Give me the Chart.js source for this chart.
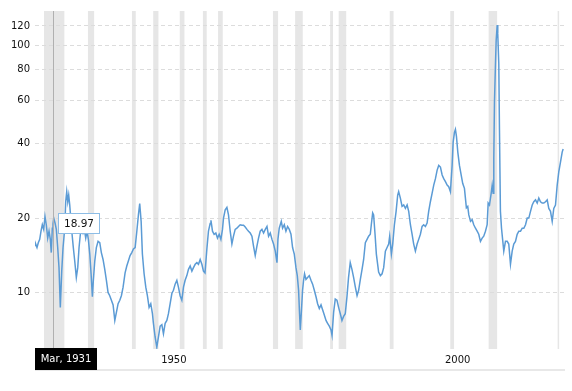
<!DOCTYPE html>
<html><head><meta charset="utf-8">
<script src="https://cdn.jsdelivr.net/npm/chart.js@4"></script>
<style>html,body{margin:0;padding:0;background:#fff}canvas{display:block}</style>
</head><body>
<canvas id="c" width="572" height="391"></canvas>
<script>
// Decimal years of each reading
const years = [
1928.0,1928.12,1928.35,1928.58,1928.83,1929.06,1929.29,1929.53,1929.76,1929.99,
1930.24,1930.47,1930.70,1930.87,1931.05,1931.17,1931.3,1931.53,1931.76,1932.0,
1932.23,1932.46,1932.71,1932.94,1933.24,1933.41,1933.59,1933.77,1933.94,1934.12,
1934.30,1934.53,1934.75,1935.0,1935.28,1935.53,1935.76,1935.99,1936.24,1936.47,
1936.69,1936.94,1937.17,1937.40,1937.65,1937.88,1938.11,1938.28,1938.53,1938.81,
1939.11,1939.41,1939.69,1939.99,1940.29,1940.58,1940.87,1941.17,1941.46,1941.76,
1942.06,1942.34,1942.64,1942.94,1943.22,1943.52,1943.87,1944.17,1944.45,1944.75,
1945.05,1945.34,1945.64,1945.94,1946.22,1946.45,1946.7,1946.92,1947.22,1947.52,
1947.80,1948.10,1948.40,1948.69,1948.86,1949.16,1949.46,1949.75,1950.05,1950.35,
1950.63,1950.93,1951.23,1951.51,1951.81,1952.11,1952.39,1952.69,1952.99,1953.27,
1953.57,1953.87,1954.16,1954.45,1954.75,1955.04,1955.34,1955.64,1955.92,1956.22,
1956.52,1956.80,1957.10,1957.40,1957.68,1957.95,1958.28,1958.56,1958.86,1959.0,
1959.27,1959.56,1959.86,1960.15,1960.45,1960.75,1961.03,1961.21,1961.51,1961.81,
1962.09,1962.39,1962.69,1962.97,1963.27,1963.57,1963.85,1964.15,1964.45,1964.74,
1965.04,1965.34,1965.62,1965.92,1966.22,1966.50,1966.80,1967.10,1967.38,1967.68,
1967.98,1968.27,1968.57,1968.87,1969.15,1969.45,1969.75,1970.03,1970.33,1970.63,
1970.80,1971.03,1971.39,1971.62,1971.92,1972.21,1972.50,1972.80,1973.10,1973.38,
1973.68,1973.98,1974.21,1974.44,1974.61,1974.74,1974.91,1975.14,1975.32,1975.49,
1975.74,1976.03,1976.32,1976.62,1976.91,1977.21,1977.51,1977.79,1978.09,1978.39,
1978.67,1978.97,1979.27,1979.55,1979.85,1980.15,1980.33,1980.61,1980.90,1981.20,
1981.49,1981.79,1982.08,1982.37,1982.66,1982.96,1983.24,1983.54,1983.84,1984.13,
1984.44,1984.74,1985.02,1985.32,1985.62,1985.90,1986.20,1986.50,1986.78,1987.07,
1987.25,1987.49,1987.66,1987.91,1988.14,1988.37,1988.54,1988.85,1989.15,1989.43,
1989.73,1990.03,1990.31,1990.49,1990.79,1991.02,1991.32,1991.62,1991.90,1992.07,
1992.37,1992.67,1992.96,1993.26,1993.56,1993.84,1994.14,1994.44,1994.72,1995.02,
1995.32,1995.60,1995.90,1996.20,1996.48,1996.78,1997.08,1997.36,1997.66,1997.96,
1998.25,1998.55,1998.85,1999.13,1999.43,1999.73,2000.01,2000.31,2000.61,2000.89,
2001.19,2001.49,2001.67,2001.90,2002.07,2002.25,2002.49,2002.78,2003.08,2003.36,
2003.66,2003.84,2004.0,2004.24,2004.43,2004.73,2005.02,2005.30,2005.60,2005.90,
2006.18,2006.48,2006.78,2007.06,2007.36,2007.66,2007.84,2008.07,2008.37,2008.55,
2008.72,2008.83,2008.95,2009.13,2009.25,2009.43,2009.53,2009.71,2009.83,2010.0,
2010.19,2010.42,2010.59,2010.89,2011.19,2011.47,2011.77,2012.07,2012.35,2012.65,
2012.95,2013.24,2013.54,2013.84,2014.12,2014.42,2014.72,2015.0,2015.30,2015.60,
2015.88,2016.18,2016.48,2016.76,2017.06,2017.36,2017.64,2017.94,2018.24,2018.52,
2018.82,2019.12,2019.40,2019.70,2020.0,2020.28,2020.58,2020.88,2021.05
];
// PE ratio readings
const peRatio = [
15.5,15.7,15.2,15.9,16.4,17.7,18.8,18.0,20.3,18.8,
16.6,17.7,16.4,14.5,18.2,18.97,20.0,19.1,18.0,15.2,
12.6,8.7,12.2,15.2,18.2,23.3,25.6,23.3,24.8,22.6,
20.0,17.2,15.2,13.4,11.5,12.6,15.2,17.2,18.2,17.4,
18.0,16.6,17.7,16.4,14.3,11.9,9.6,11.2,13.4,15.2,
16.1,15.9,14.5,13.6,12.4,11.2,10.0,9.7,9.3,8.9,
7.7,8.3,9.0,9.3,9.7,10.5,12.0,12.8,13.4,14.1,
14.5,15.0,15.2,17.7,20.6,22.9,19.4,14.3,11.9,10.5,
9.7,8.7,9.0,8.2,7.5,6.6,6.0,6.6,7.3,7.4,
6.8,7.5,7.7,8.2,9.0,9.9,10.2,10.8,11.2,10.5,
9.7,9.3,10.5,11.2,11.7,12.4,12.8,12.2,12.6,13.0,
13.2,13.0,13.6,13.0,12.2,12.0,15.0,17.7,19.0,19.6,
17.7,17.2,17.4,16.6,17.2,16.4,18.0,20.0,21.6,22.1,
20.6,17.7,15.7,16.9,18.0,18.2,18.5,18.8,18.7,18.7,
18.4,18.0,17.7,17.4,16.9,15.4,14.1,15.4,16.6,17.7,
18.0,17.4,18.0,18.5,16.9,17.4,16.4,15.7,14.7,13.2,
16.4,18.2,19.4,18.2,18.8,17.7,18.5,18.0,17.2,15.2,
14.3,12.6,11.7,10.2,8.2,7.05,8.2,10.2,11.2,11.9,
11.3,11.5,11.7,11.2,10.8,10.2,9.6,9.0,8.6,8.9,
8.5,8.1,7.7,7.5,7.3,7.05,6.7,8.3,9.4,9.3,
8.7,8.2,7.7,8.0,8.2,9.6,11.5,13.2,12.4,11.5,
10.5,9.7,10.2,11.3,12.4,13.6,15.9,16.4,16.9,17.2,
18.8,21.0,20.6,17.2,14.3,13.0,12.1,11.7,11.9,12.6,
14.7,15.2,15.7,16.9,14.3,15.7,18.8,21.3,24.8,25.6,
24.1,22.3,22.6,21.9,22.6,21.3,18.8,17.2,15.7,14.7,
15.7,16.4,17.2,18.5,18.8,18.5,19.1,21.3,23.3,25.2,
27.2,28.9,31.3,32.7,32.2,29.9,28.9,28.1,27.2,26.8,
25.6,32.7,40.6,44.5,45.8,42.9,37.0,32.7,29.9,27.6,
26.4,24.0,22.0,22.3,20.6,19.4,19.7,18.8,18.2,17.7,
17.2,16.1,16.6,16.9,17.7,18.8,23.0,22.6,25.2,27.2,
25.2,34.8,58.6,84.7,105,121,111.7,84.7,45.8,21.3,
18.2,16.1,14.7,16.1,16.1,15.7,13.0,14.7,15.7,16.1,
17.2,17.7,17.7,18.2,18.2,18.8,20.0,20.0,21.3,22.6,
23.3,23.7,23.0,24.1,23.3,23.0,23.0,23.3,23.7,21.9,
21.3,19.4,21.9,22.6,27.2,30.8,33.7,37.0,38.1
];
// US recessions (decimal years)
const recessionStart = [1929.58,1937.33,1945.08,1948.83,1953.5,1957.58,1960.25,1969.92,1973.83,1980.0,1981.5,1990.5,2001.17,2007.92,2020.08];
const recessionEnd   = [1933.17,1938.42,1945.75,1949.75,1954.33,1958.25,1961.08,1970.83,1975.17,1980.5,1982.83,1991.17,2001.83,2009.42,2020.25];
const yTickValues = [10,20,40,60,80,100,120];
const xTickValues = [1950,2000];
const tooltipYear = 1931.17;
const tooltipDateLabel = 'Mar, 1931';

const FONT = 'Verdana, "DejaVu Sans", sans-serif';
Chart.defaults.font.family = FONT;
Chart.defaults.font.size = 10;
Chart.defaults.color = '#111';

const points = years.map((yr, i) => ({x: yr, y: peRatio[i]}));
const tipIndex = years.indexOf(tooltipYear);

const recessionPlugin = {
  id: 'recessions',
  beforeDraw(chart) {
    const {ctx, chartArea: a, scales: {x}} = chart;
    ctx.save();
    ctx.fillStyle = '#e6e6e6';
    for (let i = 0; i < recessionStart.length; i++) {
      const x0 = x.getPixelForValue(recessionStart[i]);
      const x1 = x.getPixelForValue(recessionEnd[i]);
      ctx.fillRect(x0, a.top, Math.max(1.5, x1 - x0), a.bottom - a.top);
    }
    ctx.fillStyle = '#e8e8e8';
    ctx.fillRect(a.left, a.bottom + 20, a.right - a.left + 1, 2);
    ctx.restore();
  }
};

const cursorPlugin = {
  id: 'cursor',
  afterDraw(chart) {
    const {ctx, chartArea: a, scales: {x, y}} = chart;
    const px = Math.round(x.getPixelForValue(years[tipIndex]));
    const py = y.getPixelForValue(peRatio[tipIndex]);
    ctx.save();
    // crosshair
    ctx.strokeStyle = '#b0b0b0';
    ctx.lineWidth = 1;
    ctx.beginPath();
    ctx.moveTo(px + 0.5, a.top);
    ctx.lineTo(px + 0.5, a.bottom);
    ctx.stroke();
    // value balloon
    const bw = 42, bh = 21;
    const bx = px + 5, by = Math.round(py - bh / 2);
    ctx.fillStyle = '#ffffff';
    ctx.fillRect(bx, by, bw, bh);
    ctx.strokeStyle = '#8dbde6';
    ctx.strokeRect(bx + 0.5, by + 0.5, bw - 1, bh - 1);
    ctx.fillStyle = '#111';
    ctx.font = '10.5px ' + FONT;
    ctx.textAlign = 'center';
    ctx.textBaseline = 'middle';
    ctx.fillText(peRatio[tipIndex].toFixed(2), bx + bw / 2, by + bh / 2 + 0.5);
    // date label on axis
    const dw = 62, dh = 22;
    const dx = Math.max(a.left, px - dw / 2);
    const dy = a.bottom - 1;
    ctx.fillStyle = '#000000';
    ctx.fillRect(dx, dy, dw, dh);
    ctx.fillStyle = '#ffffff';
    ctx.font = '10px ' + FONT;
    ctx.fillText(tooltipDateLabel, dx + dw / 2, dy + dh / 2 + 0.5);
    ctx.restore();
  }
};

new Chart(document.getElementById('c'), {
  type: 'line',
  data: {
    datasets: [{
      data: points,
      borderColor: '#5b9bd5',
      borderWidth: 1.5,
      pointRadius: 0,
      tension: 0,
      fill: false
    }]
  },
  options: {
    responsive: false,
    animation: false,
    events: [],
    devicePixelRatio: 1,
    layout: {padding: {top: 7, right: 8, left: 0, bottom: 0}},
    plugins: {legend: {display: false}, tooltip: {enabled: false}},
    scales: {
      x: {
        type: 'linear',
        min: 1928.0,
        max: 2021.2,
        grid: {display: false, drawTicks: false},
        border: {display: false},
        afterBuildTicks: s => { s.ticks = xTickValues.map(v => ({value: v})); },
        afterFit: s => { s.height = 42; },
        ticks: {padding: 5, labelOffset: 14, maxRotation: 0, callback: v => String(v), color: '#111'}
      },
      y: {
        type: 'logarithmic',
        min: 5.9,
        max: 138,
        grid: {color: '#dcdcdc', drawTicks: false, borderDash: [4, 3]},
        border: {display: false, dash: [4, 3]},
        afterBuildTicks: s => { s.ticks = yTickValues.map(v => ({value: v})); },
        afterFit: s => { s.width = 35; },
        ticks: {padding: 5, callback: v => String(v), color: '#111', autoSkip: false}
      }
    }
  },
  plugins: [recessionPlugin, cursorPlugin]
});
</script>
</body></html>
